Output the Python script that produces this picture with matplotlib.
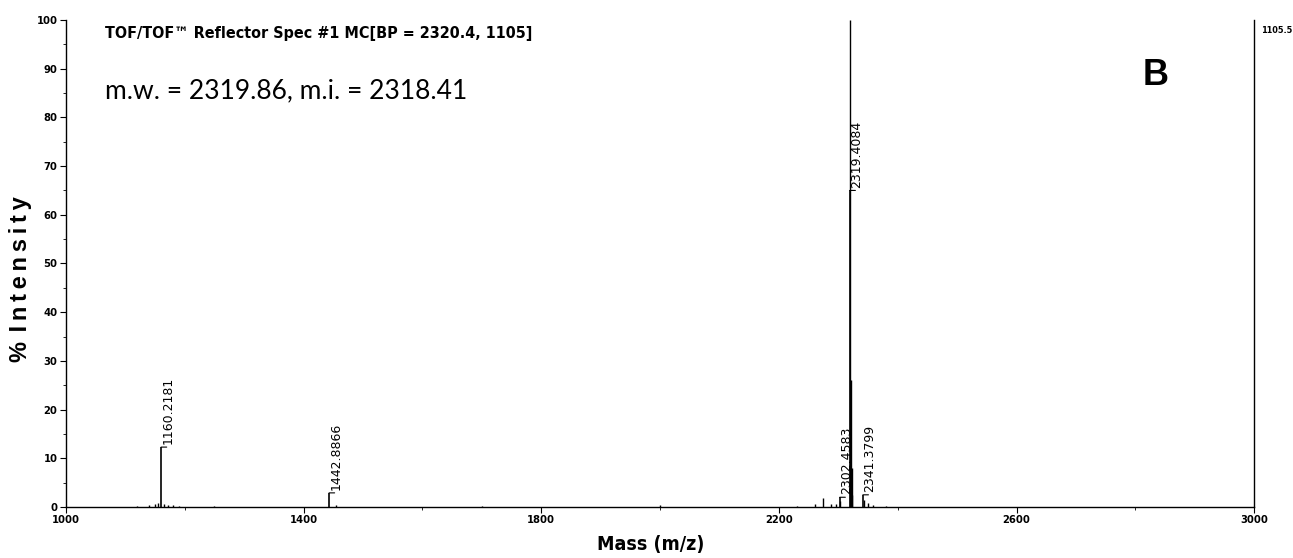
import matplotlib
matplotlib.use("Agg")
import matplotlib.pyplot as plt
from matplotlib.ticker import MultipleLocator

# labelled peaks (m/z, % intensity)
label_mz = [1160.2181, 1442.8866, 2302.4583, 2319.4084, 2341.3799]
label_int = [12.3, 2.9, 2.0, 65.0, 2.5]

# isotope cluster of the base peak and small background peaks
extra_mz = [2320.41, 2321.41, 2322.41, 2323.4,
            1120.0, 1140.0, 1150.0, 1155.0, 1165.0, 1172.0, 1180.0, 1190.0, 1250.0,
            1455.0, 1700.0, 2000.0, 2230.0, 2260.0, 2275.0, 2287.0, 2296.0,
            2303.5, 2342.4, 2350.0, 2358.0, 2380.0]
extra_int = [100.0, 26.0, 8.0, 2.5,
             0.3, 0.5, 0.7, 0.9, 0.6, 0.5, 0.4, 0.3, 0.3,
             0.4, 0.3, 0.4, 0.3, 0.6, 1.8, 0.6, 0.7,
             1.2, 1.4, 0.8, 0.4, 0.3]

xticks = [1000, 1400, 1800, 2200, 2600, 3000]
yticks = list(range(0, 101, 10))

narrow = dict(family="DejaVu Sans", fontstretch="condensed", fontweight="bold")

fig = plt.figure(figsize=(12.93, 5.58), dpi=100)
ax = fig.add_axes([0.051, 0.0914, 0.919, 0.8728])

ax.vlines(extra_mz, 0, extra_int, color="black", lw=1.0)
ax.vlines(label_mz, 0, label_int, color="black", lw=1.2)

for mz, h in zip(label_mz, label_int):
    ax.annotate(f"{mz:.4f}", xy=(mz, h), xytext=(5, 2), textcoords="offset points",
                rotation=90, ha="center", va="bottom", fontsize=9,
                family="DejaVu Sans", color="black")
    ax.annotate("", xy=(mz, h), xytext=(4, 0), textcoords="offset points",
                arrowprops=dict(arrowstyle="-", lw=0.8, color="black",
                                shrinkA=0, shrinkB=0))

ax.set_xlim(1000, 3000)
ax.set_ylim(0, 100)
ax.set_xticks(xticks)
ax.set_yticks(yticks)
ax.xaxis.set_minor_locator(MultipleLocator(200))
ax.yaxis.set_minor_locator(MultipleLocator(5))
ax.tick_params(axis="both", which="major", direction="out", length=4, width=0.8, pad=2)
ax.tick_params(axis="both", which="minor", direction="out", length=2, width=0.6)
for lbl in ax.get_xticklabels() + ax.get_yticklabels():
    lbl.set_family("DejaVu Sans")
    lbl.set_fontstretch("condensed")
    lbl.set_fontweight("bold")
    lbl.set_fontsize(8)

ax.spines["top"].set_visible(False)
for side in ["left", "bottom", "right"]:
    ax.spines[side].set_linewidth(1.0)

fig.text(0.081, 0.940, "TOF/TOF\u2122 Reflector Spec #1 MC[BP = 2320.4, 1105]",
         fontsize=11.5, va="center", **narrow)
fig.text(0.081, 0.838, "m.w. = 2319.86, m.i. = 2318.41",
         family=["Lato", "DejaVu Sans"], fontsize=19, va="center")
fig.text(0.884, 0.865, "B", family=["Liberation Sans", "DejaVu Sans"],
         fontweight="bold", fontsize=26, va="center")
fig.text(0.975, 0.945, "1105.5", fontsize=6.5, va="center", **narrow)

fig.text(0.016, 0.50, "%\u2009\u2009I\u2009n\u2009t\u2009e\u2009n\u2009s\u2009i\u2009t\u2009y",
         rotation=90, family=["Liberation Sans", "DejaVu Sans"],
         fontweight="bold", fontsize=17, ha="center", va="center")
fig.text(0.503, 0.025, "Mass (m/z)", fontsize=14, ha="center", va="center", **narrow)

fig.savefig("out.png", dpi=100)
